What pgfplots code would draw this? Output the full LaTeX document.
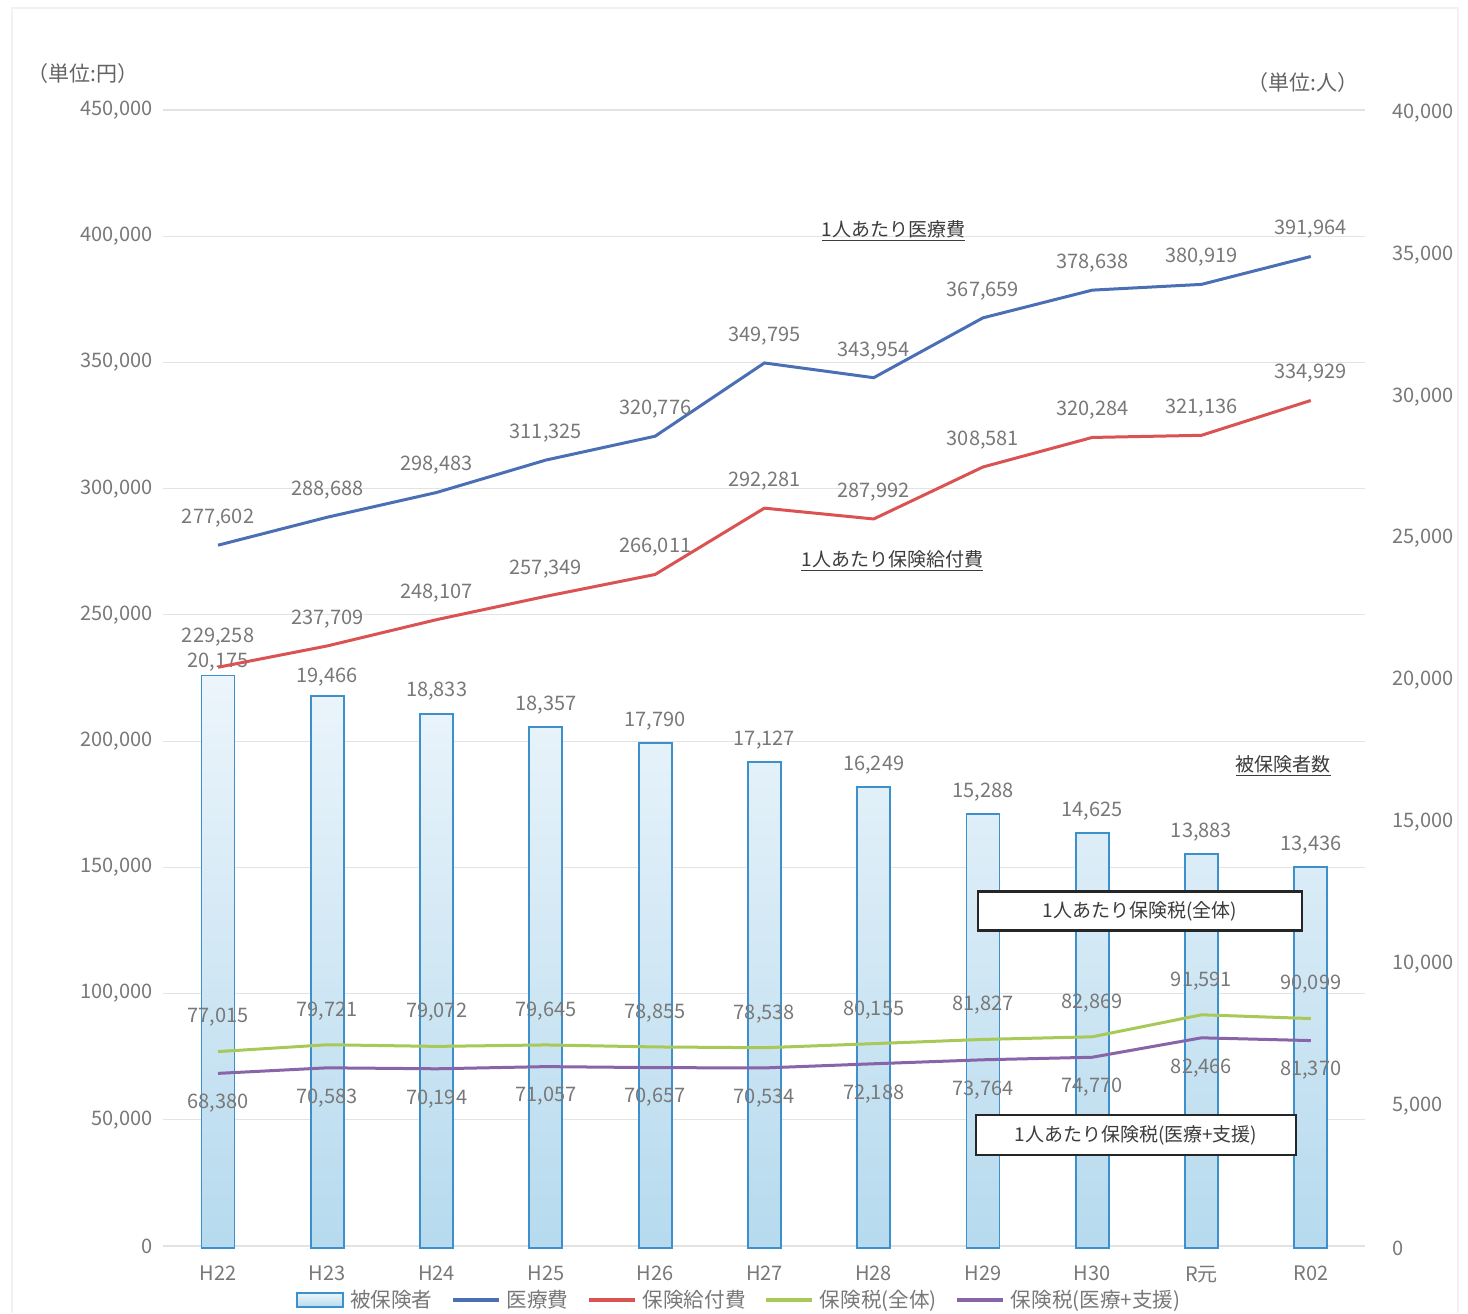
\documentclass[border=0pt]{standalone}
\usepackage{pgfplots}
\pgfplotsset{compat=1.18}
\usepackage{pgfplotstable}
\usepackage{fontspec}
\setmainfont{Noto Sans CJK JP}
\definecolor{cblue}{RGB}{74,111,181}
\definecolor{cred}{RGB}{218,82,82}
\definecolor{cgreen}{RGB}{168,200,88}
\definecolor{cpurple}{RGB}{136,100,168}
\definecolor{barline}{RGB}{60,145,205}
\definecolor{bartop}{RGB}{236,245,251}
\definecolor{barbot}{RGB}{182,218,238}
\definecolor{txt}{RGB}{120,120,120}
\definecolor{dtxt}{RGB}{60,60,60}

\pgfplotstableread{
x iryo iryoL kyufu kyufuL zentai zentaiL shien shienL hihok hihokL
0 277602 277,602 229258 229,258 77015 77,015 68380 68,380 20175 20,175
1 288688 288,688 237709 237,709 79721 79,721 70583 70,583 19466 19,466
2 298483 298,483 248107 248,107 79072 79,072 70194 70,194 18833 18,833
3 311325 311,325 257349 257,349 79645 79,645 71057 71,057 18357 18,357
4 320776 320,776 266011 266,011 78855 78,855 70657 70,657 17790 17,790
5 349795 349,795 292281 292,281 78538 78,538 70534 70,534 17127 17,127
6 343954 343,954 287992 287,992 80155 80,155 72188 72,188 16249 16,249
7 367659 367,659 308581 308,581 81827 81,827 73764 73,764 15288 15,288
8 378638 378,638 320284 320,284 82869 82,869 74770 74,770 14625 14,625
9 380919 380,919 321136 321,136 91591 91,591 82466 82,466 13883 13,883
10 391964 391,964 334929 334,929 90099 90,099 81370 81,370 13436 13,436
}\data

\begin{document}
\begin{tikzpicture}
\useasboundingbox (-81.7pt,-33.5pt) rectangle (652.3pt,623pt);
\draw[gray!10, line width=0.8pt] (-75.7pt,-33.5pt) -- (-75.7pt,619pt) -- (647.3pt,619pt) -- (647.3pt,-33.5pt);
\pgfplotsset{
  base/.style={
    scale only axis, width=601pt, height=568pt,
    xmin=-0.5, xmax=10.5, clip=false,
    major tick length=0pt,
    axis line style={draw=none},
    scaled y ticks=false,
    /pgf/number format/fixed,
    /pgf/number format/precision=0,
    /pgf/number format/1000 sep={,},
    /pgf/number format/assume math mode=true,
    tick label style={font=\fontsize{10pt}{12pt}\selectfont, text=txt},
  },
  lbl/.style={point meta=explicit symbolic, nodes near coords,
    every node near coord/.append style={anchor=center, yshift=#1,
      font=\fontsize{10pt}{12pt}\selectfont, text=txt}},
  lblonly/.style={draw=none, mark=none, forget plot, lbl=#1},
}
% grid + left axis + x labels
\begin{axis}[base,
  ymin=0, ymax=450000,
  ytick={0,50000,...,450000},
  ymajorgrids, grid style={gray!22, line width=0.6pt},
  ytick pos=left,
  yticklabel style={xshift=-2pt},
  xtick={0,...,10},
  xticklabels={H22,H23,H24,H25,H26,H27,H28,H29,H30,R元,R02},
  xtick pos=bottom,
  xticklabel style={yshift=-6.5pt},
]
\addplot[draw=none] coordinates {(0,0)};
\end{axis}
% bars, right axis
\begin{axis}[base, yshift=-1pt, height=567.5pt,
  ymin=0, ymax=40000,
  ytick={0,5000,...,40000},
  ytick pos=right, yticklabel pos=right,
  yticklabel style={xshift=10pt},
  xtick=\empty,
]
\addplot[ybar, bar width=16.5pt, draw=barline, line width=0.9pt,
  top color=bartop, bottom color=barbot]
  table[x=x, y=hihok] {\data};
\addplot[lblonly=11pt, skip coords between index={0}{2}] table[x=x, y=hihok, meta=hihokL] {\data};
\addplot[lblonly=6.5pt, skip coords between index={1}{11}] table[x=x, y=hihok, meta=hihokL] {\data};
\addplot[lblonly=9.5pt, skip coords between index={0}{1}, skip coords between index={2}{11}] table[x=x, y=hihok, meta=hihokL] {\data};
\end{axis}
% lines
\begin{axis}[base,
  ymin=0, ymax=450000,
  hide axis,
  legend style={at={(0.48,-0.0475)}, anchor=center, draw=none, fill=none,
    font=\fontsize{10.3pt}{12pt}\selectfont, text=txt,
    /tikz/every even column/.append style={column sep=7.5pt},
    /tikz/every odd column/.append style={column sep=1pt}},
  legend columns=5,
  legend image code/.code={\draw[#1, line width=1.6pt] (0pt,0pt) -- (23pt,0pt);},
]
\addlegendimage{legend image code/.code={\draw[draw=barline, line width=0.9pt, top color=bartop, bottom color=barbot] (0pt,-3.5pt) rectangle (23pt,3.5pt);}}
\addlegendentry{被保険者}
\addplot[cblue, line width=1.5pt, lbl=13.5pt] table[x=x, y=iryo, meta=iryoL] {\data};
\addlegendentry{医療費}
\addplot[cred, line width=1.5pt] table[x=x, y=kyufu] {\data};
\addlegendentry{保険給付費}
\addplot[cgreen, line width=1.5pt, lbl=17pt] table[x=x, y=zentai, meta=zentaiL] {\data};
\addlegendentry{保険税(全体)}
\addplot[cpurple, line width=1.5pt, lbl=-15pt] table[x=x, y=shien, meta=shienL] {\data};
\addlegendentry{保険税(医療+支援)}
\addplot[lblonly=13.5pt, skip coords between index={0}{1}] table[x=x, y=kyufu, meta=kyufuL] {\data};
\addplot[lblonly=15pt, skip coords between index={1}{11}] table[x=x, y=kyufu, meta=kyufuL] {\data};

\node[font=\fontsize{9.5pt}{11pt}\selectfont, text=dtxt] at (axis cs:6.18,402000) {\underline{1人あたり医療費}};
\node[font=\fontsize{9.5pt}{11pt}\selectfont, text=dtxt] at (axis cs:6.17,271300) {\underline{1人あたり保険給付費}};
\node[font=\fontsize{9.5pt}{11pt}\selectfont, text=dtxt] at (axis cs:9.75,190100) {\underline{被保険者数}};
\node[draw=black!85, line width=1.2pt, fill=white, minimum width=162pt, minimum height=19.5pt,
  font=\fontsize{9.5pt}{11pt}\selectfont, text=dtxt] at (axis cs:8.435,132700) {1人あたり保険税(全体)};
\node[draw=black!85, line width=1.2pt, fill=white, minimum width=160pt, minimum height=20pt,
  font=\fontsize{9.5pt}{11pt}\selectfont, text=dtxt] at (axis cs:8.40,43970) {1人あたり保険税(医療+支援)};
\node[font=\fontsize{10.5pt}{12pt}\selectfont, text=dtxt!80] at (axis cs:-1.235,464260) {（単位:円）};
\node[font=\fontsize{10.5pt}{12pt}\selectfont, text=dtxt!80] at (axis cs:9.93,460700) {（単位:人）};
\end{axis}
\end{tikzpicture}
\end{document}
